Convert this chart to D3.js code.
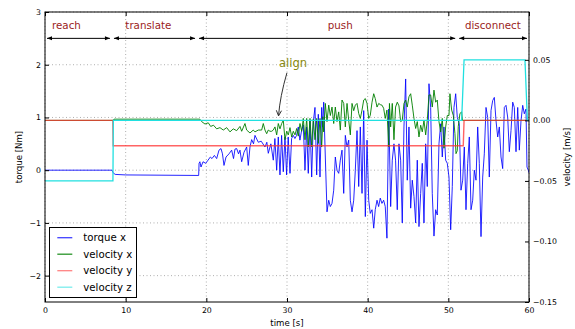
<!DOCTYPE html>
<html><head><meta charset="utf-8">
<script src="https://cdn.jsdelivr.net/npm/d3@7"></script>
<style>body{margin:0;background:#fff}svg{display:block}text{font-family:"DejaVu Sans",sans-serif}</style>
</head><body><svg id="c" width="575" height="329"></svg>
<script>
const xTicks=[0,10,20,30,40,50,60];
const yLeftTicks=[-2,-1,0,1,2,3];
const yRightTicks=[-0.15,-0.10,-0.05,0.00,0.05];
const phaseNames=["reach","translate","push","disconnect"];
const phaseBounds=[0,8.3,18.85,51.1,60];
const phaseLabelT=[0.87,9.96,35.05,52.06];
const seriesNames=["torque x","velocity x","velocity y","velocity z"];
const seriesColors=["#0000ff","#008000","#ff3030","#20e0e0"];

const torqueX=[[0,0],[8.3,0],[8.45,-0.05],[8.7,-0.08],[10,-0.09],[19.05,-0.1],
[19.1,0.13],[19.2,0.16],[19.34,0.06],[19.59,0.16],[19.92,0.13],[20.21,0.19],[20.5,0.25],[20.7,0.22],[21.0,0.28],[21.28,0.22],[21.57,0.38],[21.82,0.41],[22.0,0.31],[22.19,0.09],[22.44,0.25],[22.81,0.31],[23.14,0.38],[23.37,0.22],[23.55,0.4],[23.76,0.41],[23.99,0.31],[24.17,0.38],[24.38,0.16],[24.67,0.34],[25.0,0.44],[25.2,0.09],[25.41,0.44],[25.62,0.58],[25.85,0.5],
[26.03,0.66],[26.44,0.53],[26.8,0.55],[27.27,0.44],[27.5,0.53],[27.68,0.32],[28.0,0.5],[28.3,0.19],[28.5,0.6],[28.72,0],[28.92,0.63],[29.13,-0.09],[29.33,0.66],[29.54,-0.03],[29.75,0.63],[29.95,-0.09],[30.15,0.63],[30.37,-0.06],[30.57,0.6],[30.78,0.66],[30.98,0.6],[31.19,0.66],[31.40,0.82],[31.6,0.57],[31.81,0.75],[32.02,0.86],[32.23,0],[32.43,0.82],[32.64,-0.06],[32.85,0.94],[33.06,-0.13],[33.26,0.92],[33.47,1.19],[33.68,-0.09],[33.88,1.06],[34.09,-0.13],[34.30,1.19],
[34.40,0.82],[34.55,1.29],[34.75,0.25],[34.96,-0.79],[35.17,-0.57],[35.37,-0.69],[35.58,-0.63],[35.79,-0.38],[35.99,0.25],[36.20,0],[36.41,-0.06],[36.61,0.19],[36.82,0.38],[37.03,-0.44],[37.23,0.66],[37.44,0.44],[37.65,0.57],[37.85,-0.57],[38.06,-0.79],[38.27,-0.57],[38.47,0],[38.68,0.75],[38.89,-0.31],[39.09,0.82],[39.30,-0.44],[39.51,1.13],[39.71,-0.88],[39.92,0.57],[40.13,-0.57],[40.32,-0.82],[40.54,-0.75],[40.75,-1.10],[40.94,-0.75],[41.16,-0.57],[41.36,-0.69],[41.56,-0.53],[41.77,-0.63],[41.98,-0.57],[42.18,-0.69],[42.39,-1.29],[42.61,1.16],[42.85,-0.69],[43.05,0.19],[43.26,0.5],[43.46,0.19],[43.67,-0.75],[43.88,0.5],[44.09,0.19],[44.29,-1.0],[44.50,0.82],[44.71,1.73],[44.91,-0.19],[45.12,0.82],[45.33,-0.72],[45.53,-0.19],[45.74,-0.5],[45.95,-1.0],[46.15,0.19],[46.36,-1.07],[46.57,-0.44],[46.77,0.13],[46.98,-1.0],[47.19,0.5],[47.39,-0.31],[47.60,1.64],[47.81,1.19],[48.01,-0.44],[48.22,-1.25],[48.43,-0.75],[48.63,-0.85],[48.84,0.5],[49.05,0.88],[49.25,0.25],[49.46,0.82],[49.67,0.19],[49.87,0.13],[50.08,-0.13],[50.29,-1.13],[50.49,-0.31],[50.70,1.19],[50.91,1.45],[51.11,1.0],[51.36,0.88],[51.57,-0.38],[51.78,-0.19],[51.98,0.44],[52.19,-0.75],[52.40,0.13],[52.60,0.63],[52.81,-0.75],[53.02,-0.57],[53.22,0],[53.43,-0.19],[53.64,0.82],[53.84,0.13],[54.05,-1.26],[54.26,-0.13],[54.46,0.31],[54.67,1.19],[54.88,1.0],[55.08,-0.13],[55.29,1.13],[55.50,1.32],[55.70,1.38],[55.91,0.94],[56.12,0.63],[56.32,0.82],[56.53,0.25],[56.74,0.03],[56.94,1.19],[57.15,1.23],[57.36,1.0],[57.56,0.35],[57.77,0.75],[57.98,1.29],[58.18,1.19],[58.39,0.35],[58.60,1.19],[58.80,0.38],[59.01,0.94],[59.22,1.23],[59.42,1.07],[59.63,1.16],[59.75,0.06],[59.91,0],[60,-0.05]];

const velocityX=[[0,0],[8.45,0],[8.55,0.001],[19.2,0.001],[19.42,-0.001],[19.83,-0.003],[20.24,-0.002],[20.54,-0.005],[20.89,-0.004],[21.28,-0.007],[21.69,-0.006],[22.10,-0.008],[22.52,-0.006],[22.93,-0.0095],[23.34,-0.007],[23.76,-0.0085],[24.17,-0.005],[24.38,-0.009],[24.79,-0.0026],[25.00,-0.008],[25.41,-0.0104],[25.82,-0.008],
[26.03,-0.0095],[26.44,-0.008],[26.86,-0.008],[27.06,-0.0026],[27.27,-0.008],[27.48,-0.011],[27.68,-0.008],[27.89,-0.009],[28.10,-0.009],[28.30,-0.008],[28.51,-0.0054],[28.72,-0.012],[28.92,-0.0026],[29.13,-0.007],[29.34,-0.0026],[29.54,0],[29.75,-0.016],[29.96,-0.009],[30.16,-0.012],[30.37,-0.006],[30.58,-0.0137],[30.78,-0.009],[30.99,-0.012],[31.20,-0.0067],[31.40,-0.013],[31.61,-0.0026],[31.82,-0.009],[32.02,0.0016],[32.23,-0.016],[32.44,0.0016],[32.64,-0.022],[32.85,0.0016],[33.06,-0.022],[33.26,0.001],[33.47,-0.016],[33.68,0.0016],[33.88,-0.019],[34.09,0.0016],[34.30,-0.022],[34.45,0.003],
[34.55,-0.0095],[34.75,0.014],[34.96,-0.001],[35.17,0.0126],[35.37,0.004],[35.58,0.011],[35.79,-0.0026],[35.99,0.011],[36.20,-0.001],[36.41,0.007],[36.61,-0.008],[36.82,0.0168],[37.03,0.014],[37.23,-0.0054],[37.44,0.014],[37.65,0],[37.85,-0.012],[38.06,0.014],[38.27,0.008],[38.47,0.0126],[38.68,0.014],[38.89,0.0057],[39.09,0.0016],[39.30,0.0085],[39.51,0.0168],[39.71,0.018],[39.92,0.014],[40.13,0.0016],[40.32,0.004],[40.54,0.015],[40.75,0.022],[40.94,0.018],[41.16,0.011],[41.37,0.014],[41.56,0.013],[41.77,0.0126],[41.98,0.01],[42.18,0.0016],[42.39,0.0085],[42.61,-0.022],
[42.7,0.014],[42.85,-0.0054],[43.05,0.014],[43.26,-0.016],[43.46,0.011],[43.67,0.015],[43.88,0.012],[44.09,-0.001],[44.29,0],[44.50,0.014],[44.71,0.0168],[44.91,0.011],[45.12,0.0195],[45.33,0.022],[45.53,0.0126],[45.74,0.0016],[45.95,-0.0067],[46.15,-0.001],[46.36,-0.0137],[46.57,-0.004],[46.77,-0.0095],[46.98,0],[47.19,-0.012],[47.39,0],[47.60,0.021],[47.81,0.021],[48.01,0.011],[48.22,0.025],[48.43,0.015],[48.63,0.0168],[48.84,-0.001],[49.05,-0.0095],[49.25,0.0016],[49.46,-0.023],[49.67,-0.0054],[49.87,0.004],[50.08,0.004],[50.20,0.022],[50.41,0.0085],[50.62,0.004],[50.82,-0.011],[50.95,-0.0275],[51.11,-0.025],[51.23,-0.005],[51.44,0.0057],[51.65,0.007],[51.75,0],[60,0]];

const velocityY=[[0,0],[8.4,0],[8.45,-0.021],[51.85,-0.021],[51.95,0],[60,0]];
const velocityZ=[[0,-0.05],[8.42,-0.05],[8.47,0],[51.65,0],[51.95,0.05],[59.5,0.05],[59.8,0],[60,0]];

const alignText="align";
const alignAt=[29.0,1.96];
const alignTarget=[28.95,1.03];

const svg=d3.select("#c");
const L=45,R=529,T=12,B=302;
const x=d3.scaleLinear([0,60],[L,R]);
const yL=d3.scaleLinear([-2.5,3],[B,T]);
const yR=d3.scaleLinear([-0.15,0.0895],[B,T]);

svg.append("defs").append("clipPath").attr("id","clip").append("rect")
  .attr("x",L).attr("y",T).attr("width",R-L).attr("height",B-T);

// grid
const g=svg.append("g").attr("stroke","#9a9a9a").attr("stroke-width",0.8).attr("stroke-dasharray","1,2.5");
g.selectAll(".vx").data(xTicks).join("line").attr("x1",d=>x(d)).attr("x2",d=>x(d)).attr("y1",T).attr("y2",B);
g.selectAll(".hy").data(yLeftTicks).join("line").attr("y1",d=>yL(d)).attr("y2",d=>yL(d)).attr("x1",L).attr("x2",R);

const plot=svg.append("g").attr("clip-path","url(#clip)");
const lineL=d3.line().x(d=>x(d[0])).y(d=>yL(d[1]));
const lineR=d3.line().x(d=>x(d[0])).y(d=>yR(d[1]));
plot.append("path").attr("d",lineL(torqueX)).attr("fill","none").attr("stroke",seriesColors[0]).attr("stroke-width",1).attr("stroke-opacity",0.85).attr("stroke-linejoin","round");
plot.append("path").attr("d",lineR(velocityX)).attr("fill","none").attr("stroke",seriesColors[1]).attr("stroke-width",1).attr("stroke-opacity",0.9).attr("stroke-linejoin","round");
plot.append("path").attr("d",lineR(velocityY)).attr("fill","none").attr("stroke",seriesColors[2]).attr("stroke-width",1.4).attr("stroke-opacity",0.75);
plot.append("path").attr("d",lineR(velocityZ)).attr("fill","none").attr("stroke",seriesColors[3]).attr("stroke-width",1.3);

// axes
const fs="7.8px";
function style(a){a.select(".domain").remove();a.selectAll("line").attr("stroke","#000");a.selectAll("text").attr("font-size",fs).attr("fill","#000").attr("font-family","DejaVu Sans");}
svg.append("g").attr("transform",`translate(0,${B})`).call(d3.axisBottom(x).tickValues(xTicks).tickSize(-4).tickPadding(5).tickFormat(d3.format("d"))).call(style);
svg.append("g").attr("transform",`translate(0,${T})`).call(d3.axisTop(x).tickValues(xTicks).tickSize(-4).tickFormat("")).call(style);
svg.append("g").attr("transform",`translate(${L},0)`).call(d3.axisLeft(yL).tickValues(yLeftTicks).tickSize(-4).tickPadding(4).tickFormat(d=>d<0?"\u2212"+Math.abs(d):String(d))).call(style);
svg.append("g").attr("transform",`translate(${R},0)`).call(d3.axisRight(yR).tickValues(yRightTicks).tickSize(-4).tickPadding(4).tickFormat(d=>{const s=Math.abs(d).toFixed(2);return d<-1e-9?"\u2212"+s:s;})).call(style);

svg.append("rect").attr("x",L).attr("y",T).attr("width",R-L).attr("height",B-T).attr("fill","none").attr("stroke","#000").attr("stroke-width",1);

// axis labels
svg.append("text").attr("x",(L+R)/2).attr("y",326).attr("text-anchor","middle").attr("font-size","8.6px").text("time [s]");
svg.append("text").attr("transform",`translate(21.5,${(T+B)/2}) rotate(-90)`).attr("text-anchor","middle").attr("font-size","8.6px").text("torque [Nm]");
svg.append("text").attr("transform",`translate(569.5,${(T+B)/2}) rotate(-90)`).attr("text-anchor","middle").attr("font-size","8.6px").text("velocity [m/s]");

// phase arrows
const ay=yL(2.5);
const ph=svg.append("g");
phaseNames.forEach((n,i)=>{
  const x1=x(phaseBounds[i])+2, x2=x(phaseBounds[i+1])-2;
  ph.append("line").attr("x1",x1).attr("x2",x2).attr("y1",ay).attr("y2",ay).attr("stroke","#000").attr("stroke-width",1);
  ph.append("path").attr("d",`M${x1},${ay}L${x1+5},${ay-2}L${x1+5},${ay+2}Z`).attr("fill","#000");
  ph.append("path").attr("d",`M${x2},${ay}L${x2-5},${ay-2}L${x2-5},${ay+2}Z`).attr("fill","#000");
  ph.append("text").attr("x",x(phaseLabelT[i])).attr("y",yL(2.68)).attr("font-size","10.3px").attr("fill","#9b1c1c").text(n);
});

// align annotation
const ax0=x(alignAt[0]), ay0=yL(alignAt[1]);
svg.append("text").attr("x",ax0).attr("y",ay0).attr("font-size","11.6px").attr("fill","#8a8a10").text(alignText);
const sx=ax0+8, sy=ay0+6, ex=x(alignTarget[0]), ey=yL(alignTarget[1]);
const cx=ex+1.5, cy=(sy+ey)/2+2;
svg.append("path").attr("d",`M${sx},${sy}Q${cx},${cy} ${ex},${ey}`).attr("fill","none").attr("stroke","#333").attr("stroke-width",1);
const ang=Math.atan2(ey-cy,ex-cx);
const hl=6, hw=0.45;
svg.append("path").attr("d",`M${ex-hl*Math.cos(ang-hw)},${ey-hl*Math.sin(ang-hw)}L${ex},${ey}L${ex-hl*Math.cos(ang+hw)},${ey-hl*Math.sin(ang+hw)}`).attr("fill","none").attr("stroke","#333").attr("stroke-width",1);

// legend
const lg=svg.append("g");
lg.append("rect").attr("x",49.5).attr("y",227.5).attr("width",87).attr("height",70).attr("fill","#fff").attr("stroke","#000").attr("stroke-width",1);
const legendOpacity=[0.75,0.85,0.6,0.6];
seriesNames.forEach((n,i)=>{
  const yy=237.7+i*16.5;
  lg.append("line").attr("x1",57.3).attr("x2",72.3).attr("y1",yy).attr("y2",yy).attr("stroke",seriesColors[i]).attr("stroke-width",1.3).attr("stroke-opacity",legendOpacity[i]);
  lg.append("text").attr("x",83.3).attr("y",yy+3.6).attr("font-size","10.2px").attr("fill","#000").text(n);
});
</script></body></html>
